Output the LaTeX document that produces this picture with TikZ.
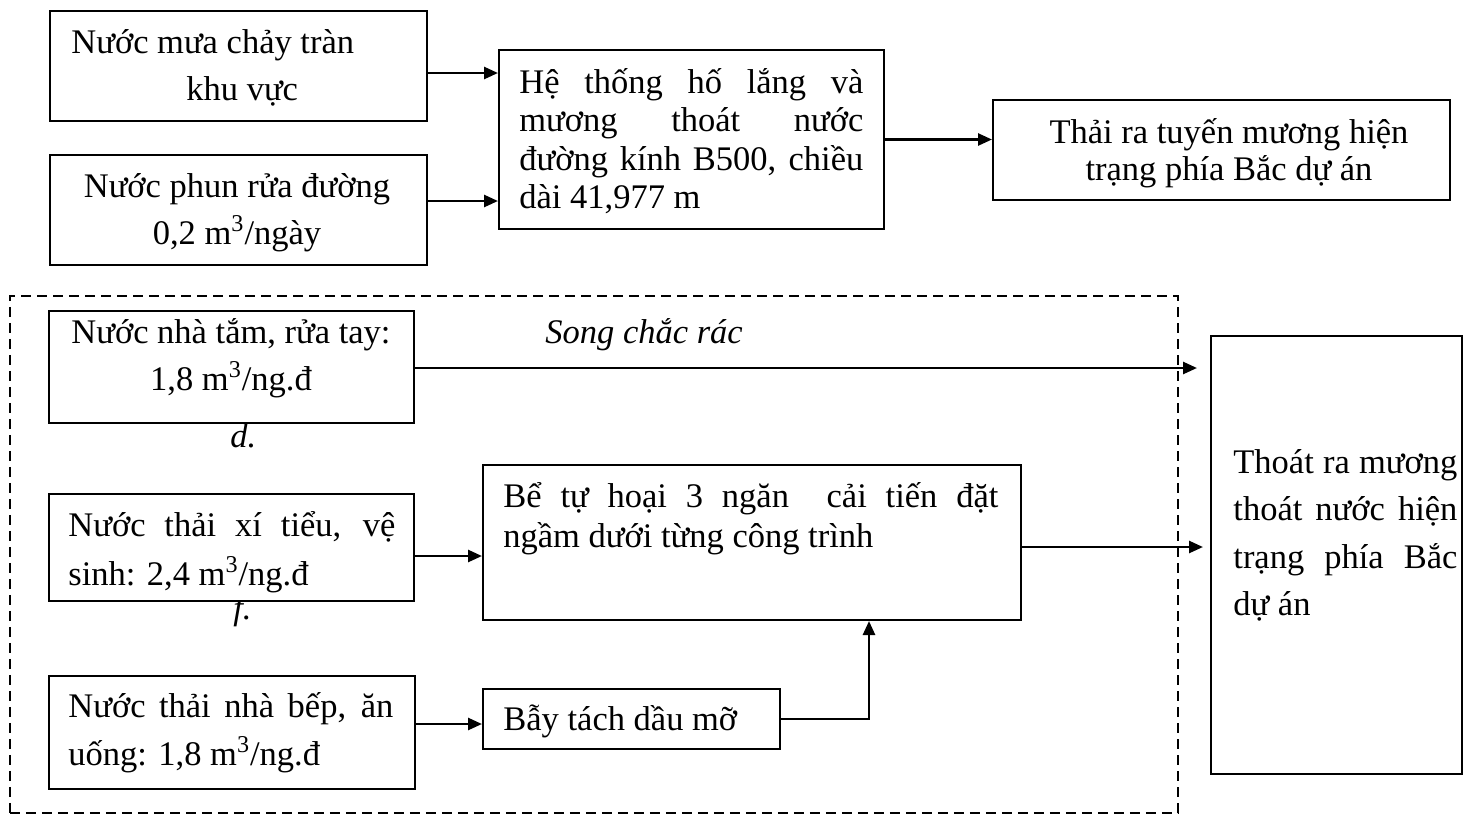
\documentclass[tikz,border=0pt]{standalone}
\usepackage{fontspec}
\setmainfont{Liberation Serif}
\usetikzlibrary{arrows.meta}
\newlength\pxu \setlength\pxu{0.5pt}
\newcommand\jl[2]{\makebox[#1\pxu][s]{#2}}
\newcommand\pb[2]{\parbox[t]{#1\pxu}{\lineskiplimit=-50pt\relax #2}}
\begin{document}
\begin{tikzpicture}[x=0.5pt,y=-0.5pt,
  box/.style={draw,line width=1pt,fill=white,inner sep=0pt,anchor=north west},
  grp/.style={draw,line width=0.8pt,dash pattern=on 5pt off 3pt,inner sep=0pt,anchor=north west},
  lbl/.style={inner sep=0pt,anchor=base west,font=\fontsize{17.25pt}{23.5pt}\selectfont},
  arr/.style={line width=1.3pt,-{Triangle[length=7pt,width=6pt]}},
]
\useasboundingbox (0,0) rectangle (1469,816);

% dashed group
\node[grp,minimum width=1168\pxu,minimum height=517\pxu] (grp) at (9,295) {};

% partly hidden label under box F
\node[lbl,font=\fontsize{17.25pt}{23.5pt}\selectfont\itshape] (lf) at (233,619) {f.};

% boxes
\node[box,minimum width=377\pxu,minimum height=110\pxu] (A) at (49,10) {};
\node[box,minimum width=377\pxu,minimum height=110\pxu] (B) at (49,154) {};
\node[box,minimum width=385\pxu,minimum height=179\pxu] (C) at (498,49) {};
\node[box,minimum width=457\pxu,minimum height=100\pxu] (D) at (992,99) {};
\node[box,minimum width=365\pxu,minimum height=112\pxu] (E) at (48,310) {};
\node[box,minimum width=365\pxu,minimum height=107\pxu] (F) at (48,493) {};
\node[box,minimum width=538\pxu,minimum height=155\pxu] (G) at (482,464) {};
\node[box,minimum width=251\pxu,minimum height=438\pxu] (H) at (1210,335) {};
\node[box,minimum width=366\pxu,minimum height=113\pxu] (I) at (48,675) {};
\node[box,minimum width=297\pxu,minimum height=60\pxu] (J) at (482,688) {};

% texts
\node[lbl] (tA) at (71,53) {\pb{340}{Nước mưa chảy tràn\\\hspace*{115\pxu}khu vực}};
\node[lbl,anchor=base] (tB) at (237,197) {\pb{340}{\centering Nước phun rửa đường\\0,2 m\textsuperscript{3}/ngày}};
\node[lbl,font=\fontsize{17.25pt}{19.25pt}\selectfont] (tC) at (519,93) {\pb{344}{\jl{344}{Hệ thống hố lắng và}\\\jl{344}{mương thoát nước}\\\jl{344}{đường kính B500, chiều}\\dài 41,977 m}};
\node[lbl,anchor=base,font=\fontsize{17.25pt}{18.5pt}\selectfont] (tD) at (1229,143) {\pb{440}{\centering Thải ra tuyến mương hiện\\trạng phía Bắc dự án}};
\node[lbl,anchor=base] (tE) at (231,343) {\pb{340}{\centering Nước nhà tắm, rửa tay:\\1,8 m\textsuperscript{3}/ng.đ}};
\node[lbl,font=\fontsize{17.25pt}{24.5pt}\selectfont] (tF) at (68,536) {\pb{327}{\jl{327}{Nước thải xí tiểu, vệ}\\sinh: 2,4 m\textsuperscript{3}/ng.đ}};
\node[lbl,font=\fontsize{17.25pt}{20pt}\selectfont] (tG) at (503,507) {\pb{495}{\jl{495}{Bể tự hoại 3 ngăn \ cải tiến đặt}\\ngầm dưới từng công trình}};
\node[lbl,font=\fontsize{17.25pt}{23.75pt}\selectfont] (tH) at (1233,473) {\pb{224}{\jl{224}{Thoát ra mương}\\\jl{224}{thoát nước hiện}\\\jl{224}{trạng phía Bắc}\\dự án}};
\node[lbl,font=\fontsize{17.25pt}{24pt}\selectfont] (tI) at (68,717) {\pb{325}{\jl{325}{Nước thải nhà bếp, ăn}\\uống: 1,8 m\textsuperscript{3}/ng.đ}};
\node[lbl] (tJ) at (503,730) {Bẫy tách dầu mỡ};
\node[lbl,font=\fontsize{17.25pt}{23.5pt}\selectfont\itshape] (song) at (545,343) {Song chắc rác};
\node[lbl,font=\fontsize{17.25pt}{23.5pt}\selectfont\itshape] (ld) at (230,447) {d.};

% connectors
\draw[arr] ([yshift=-7\pxu]A.east) -- ([yshift=-7\pxu]A.east -| C.west);
\draw[arr] ([yshift=9\pxu]B.east) -- ([yshift=9\pxu]B.east -| C.west);
\draw[arr] (C.east) -- (C.east -| D.west);
\draw[arr,shorten >=13\pxu] ([yshift=-1\pxu]E.east) -- ([yshift=-1\pxu]E.east -| H.west);
\draw[arr] ([yshift=-8.5\pxu]F.east) -- ([yshift=-8.5\pxu]F.east -| G.west);
\draw[arr,shorten >=7\pxu] ([yshift=-4.5\pxu]G.east) -- ([yshift=-4.5\pxu]G.east -| H.west);
\draw[arr] ([yshift=8.5\pxu]I.east) -- ([yshift=8.5\pxu]I.east -| J.west);
\draw[arr] (J.east) -| ([xshift=117\pxu]G.south);
\end{tikzpicture}
\end{document}
